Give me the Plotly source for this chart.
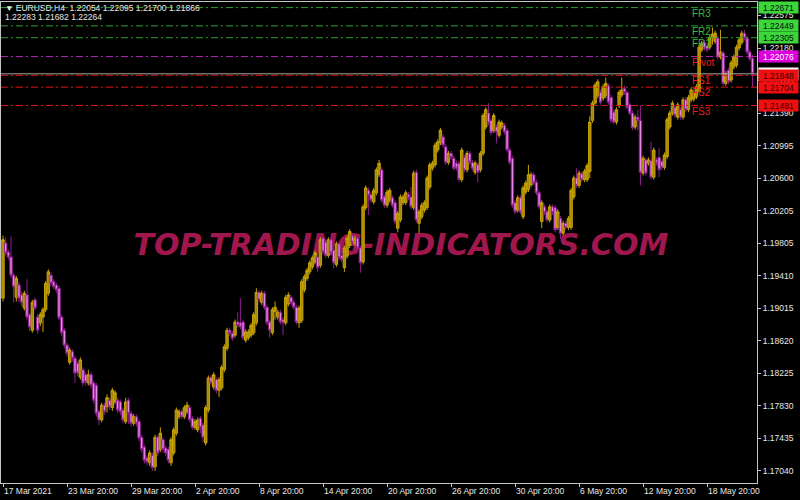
import plotly.graph_objects as go

# ---------------- data (EURUSD H4) ----------------
opens = [
    1.1914, 1.1981, 1.1970, 1.1964, 1.1942, 1.1915, 1.1930, 1.1918, 1.1902, 1.1918,
    1.1894, 1.1875, 1.1912, 1.1891, 1.1884, 1.1891, 1.1900, 1.1920, 1.1942, 1.1934,
    1.1930, 1.1926, 1.1891, 1.1875, 1.1857, 1.1836, 1.1849, 1.1841, 1.1835, 1.1818,
    1.1827, 1.1821, 1.1811, 1.1821, 1.1811, 1.1808, 1.1776, 1.1766, 1.1784, 1.1782,
    1.1790, 1.1781, 1.1788, 1.1790, 1.1788, 1.1778, 1.1764, 1.1790, 1.1774, 1.1762,
    1.1770, 1.1764, 1.1745, 1.1733, 1.1720, 1.1714, 1.1723, 1.1709, 1.1745, 1.1730,
    1.1742, 1.1732, 1.1730, 1.1714, 1.1726, 1.1750, 1.1770, 1.1776, 1.1770, 1.1776,
    1.1781, 1.1768, 1.1757, 1.1754, 1.1768, 1.1760, 1.1738, 1.1778, 1.1818, 1.1806,
    1.1815, 1.1802, 1.1805, 1.1827, 1.1853, 1.1875, 1.1871, 1.1869, 1.1885, 1.1884,
    1.1885, 1.1863, 1.1866, 1.1869, 1.1872, 1.1884, 1.1921, 1.1909, 1.1920, 1.1903,
    1.1885, 1.1872, 1.1898, 1.1891, 1.1897, 1.1888, 1.1884, 1.1907, 1.1915, 1.1909,
    1.1903, 1.1884, 1.1887, 1.1924, 1.1938, 1.1946, 1.1952, 1.1958, 1.1964, 1.1954,
    1.1987, 1.1982, 1.1966, 1.1985, 1.1972, 1.1955, 1.1980, 1.1966, 1.1951, 1.1965,
    1.1978, 1.1990, 1.1980, 1.1987, 1.1975, 1.1958, 1.2024, 1.2045, 1.2040, 1.2031,
    1.2042, 1.2064, 1.2070, 1.2037, 1.2027, 1.2033, 1.2036, 1.2030, 1.1999, 1.2009,
    1.2030, 1.2030, 1.2040, 1.2037, 1.2024, 1.2067, 1.2005, 1.2013, 1.2021, 1.2024,
    1.2049, 1.2072, 1.2076, 1.2094, 1.2103, 1.2110, 1.2098, 1.2079, 1.2090, 1.2084,
    1.2078, 1.2078, 1.2058, 1.2085, 1.2070, 1.2090, 1.2079, 1.2067, 1.2076, 1.2070,
    1.2090, 1.2122, 1.2139, 1.2130, 1.2118, 1.2122, 1.2112, 1.2122, 1.2124, 1.2118,
    1.2094, 1.2084, 1.2030, 1.2021, 1.2036, 1.2013, 1.2043, 1.2046, 1.2052, 1.2064,
    1.2055, 1.2042, 1.2007, 1.2025, 1.2019, 1.2009, 1.2025, 1.2024, 1.2000, 1.2011,
    1.1993, 1.2005, 1.2000, 1.2000, 1.2037, 1.2060, 1.2051, 1.2065, 1.2058, 1.2058,
    1.2068, 1.2130, 1.2151, 1.2160, 1.2164, 1.2157, 1.2160, 1.2172, 1.2158, 1.2140,
    1.2128, 1.2148, 1.2161, 1.2169, 1.2164, 1.2149, 1.2139, 1.2122, 1.2134, 1.2130,
    1.2066, 1.2082, 1.2078, 1.2081, 1.2061, 1.2082, 1.2085, 1.2080, 1.2073, 1.2086,
    1.2122, 1.2139, 1.2146, 1.2134, 1.2143, 1.2134, 1.2155, 1.2143, 1.2155, 1.2156,
    1.2159, 1.2166, 1.2216, 1.2225, 1.2221, 1.2219, 1.2231, 1.2226, 1.2230, 1.2207,
    1.2212, 1.2175, 1.2191, 1.2179, 1.2195, 1.2197, 1.2218, 1.2225, 1.2236, 1.2230,
    1.2213, 1.22054,
]
highs = [
    1.1990, 1.1988, 1.1973, 1.1989, 1.1945, 1.1941, 1.1934, 1.1922, 1.1923, 1.1937,
    1.1896, 1.1912, 1.1915, 1.1895, 1.1897, 1.1903, 1.1935, 1.1949, 1.1945, 1.1937,
    1.1933, 1.1929, 1.1894, 1.1878, 1.1860, 1.1854, 1.1852, 1.1844, 1.1838, 1.1842,
    1.1830, 1.1824, 1.1827, 1.1824, 1.1814, 1.1811, 1.1779, 1.1787, 1.1787, 1.1797,
    1.1793, 1.1805, 1.1802, 1.1793, 1.1791, 1.1781, 1.1793, 1.1793, 1.1777, 1.1773,
    1.1773, 1.1767, 1.1748, 1.1736, 1.1723, 1.1729, 1.1726, 1.1748, 1.1748, 1.1757,
    1.1745, 1.1735, 1.1733, 1.1745, 1.1757, 1.1781, 1.1779, 1.1779, 1.1784, 1.1788,
    1.1784, 1.1771, 1.1767, 1.1769, 1.1771, 1.1763, 1.1784, 1.1820, 1.1821, 1.1824,
    1.1818, 1.1818, 1.1833, 1.1858, 1.1878, 1.1878, 1.1874, 1.1888, 1.1897, 1.1914,
    1.1888, 1.1876, 1.1876, 1.1884, 1.1897, 1.1926, 1.1924, 1.1923, 1.1923, 1.1906,
    1.1888, 1.1903, 1.1910, 1.1900, 1.1900, 1.1891, 1.1918, 1.1921, 1.1918, 1.1912,
    1.1906, 1.1905, 1.1937, 1.1943, 1.1951, 1.1960, 1.1966, 1.1972, 1.1967, 1.1988,
    1.1990, 1.1985, 1.1988, 1.1988, 1.1975, 1.1983, 1.1983, 1.1969, 1.1978, 1.1990,
    1.1998, 1.1993, 1.1990, 1.1990, 1.1978, 1.2028, 1.2051, 1.2048, 1.2043, 1.2048,
    1.2073, 1.2082, 1.2073, 1.2040, 1.2046, 1.2048, 1.2039, 1.2033, 1.2020, 1.2040,
    1.2040, 1.2045, 1.2043, 1.2049, 1.2069, 1.2070, 1.2022, 1.2030, 1.2033, 1.2063,
    1.2079, 1.2081, 1.2103, 1.2107, 1.2121, 1.2113, 1.2101, 1.2093, 1.2093, 1.2087,
    1.2081, 1.2081, 1.2097, 1.2088, 1.2093, 1.2093, 1.2082, 1.2081, 1.2079, 1.2093,
    1.2139, 1.2146, 1.2151, 1.2133, 1.2139, 1.2125, 1.2131, 1.2130, 1.2127, 1.2121,
    1.2097, 1.2087, 1.2033, 1.2039, 1.2039, 1.2051, 1.2057, 1.2076, 1.2067, 1.2067,
    1.2058, 1.2045, 1.2033, 1.2028, 1.2022, 1.2028, 1.2028, 1.2027, 1.2022, 1.2014,
    1.2008, 1.2008, 1.2014, 1.2048, 1.2063, 1.2072, 1.2069, 1.2068, 1.2071, 1.2078,
    1.2135, 1.2154, 1.2176, 1.2180, 1.2167, 1.2174, 1.2182, 1.2175, 1.2161, 1.2143,
    1.2146, 1.2167, 1.2182, 1.2172, 1.2167, 1.2152, 1.2142, 1.2137, 1.2143, 1.2148,
    1.2087, 1.2085, 1.2085, 1.2104, 1.2097, 1.2085, 1.2097, 1.2083, 1.2091, 1.2134,
    1.2142, 1.2154, 1.2149, 1.2152, 1.2146, 1.2158, 1.2158, 1.2161, 1.2170, 1.2166,
    1.2174, 1.2222, 1.2227, 1.2228, 1.2224, 1.2234, 1.2243, 1.2239, 1.2233, 1.2240,
    1.2215, 1.2190, 1.2194, 1.2203, 1.2210, 1.2222, 1.2231, 1.2239, 1.2240, 1.2233,
    1.2216, 1.22095,
]
lows = [
    1.1910, 1.1966, 1.1960, 1.1938, 1.1909, 1.1910, 1.1909, 1.1904, 1.1899, 1.1888,
    1.1874, 1.1872, 1.1899, 1.1871, 1.1880, 1.1873, 1.1897, 1.1917, 1.1929, 1.1925,
    1.1920, 1.1887, 1.1868, 1.1853, 1.1843, 1.1833, 1.1837, 1.1811, 1.1819, 1.1815,
    1.1807, 1.1808, 1.1808, 1.1804, 1.1786, 1.1770, 1.1760, 1.1763, 1.1772, 1.1775,
    1.1778, 1.1777, 1.1785, 1.1774, 1.1772, 1.1762, 1.1761, 1.1761, 1.1758, 1.1759,
    1.1758, 1.1740, 1.1726, 1.1713, 1.1711, 1.1710, 1.1704, 1.1704, 1.1722, 1.1727,
    1.1726, 1.1722, 1.1713, 1.1710, 1.1723, 1.1747, 1.1767, 1.1767, 1.1767, 1.1773,
    1.1763, 1.1754, 1.1754, 1.1751, 1.1750, 1.1739, 1.1735, 1.1775, 1.1808, 1.1803,
    1.1798, 1.1794, 1.1802, 1.1824, 1.1850, 1.1868, 1.1862, 1.1866, 1.1878, 1.1876,
    1.1863, 1.1860, 1.1863, 1.1866, 1.1869, 1.1881, 1.1909, 1.1906, 1.1900, 1.1881,
    1.1866, 1.1869, 1.1888, 1.1888, 1.1882, 1.1869, 1.1881, 1.1904, 1.1905, 1.1900,
    1.1882, 1.1878, 1.1884, 1.1921, 1.1935, 1.1943, 1.1949, 1.1955, 1.1946, 1.1951,
    1.1967, 1.1963, 1.1963, 1.1966, 1.1950, 1.1952, 1.1960, 1.1958, 1.1946, 1.1962,
    1.1975, 1.1979, 1.1977, 1.1972, 1.1945, 1.1955, 1.2021, 1.2015, 1.2030, 1.2028,
    1.2039, 1.2061, 1.2030, 1.2024, 1.2024, 1.2030, 1.2024, 1.2004, 1.1994, 1.2006,
    1.2027, 1.2027, 1.2033, 1.2022, 1.2021, 1.2006, 1.1993, 1.2010, 1.2018, 1.2021,
    1.2046, 1.2069, 1.2073, 1.2091, 1.2100, 1.2097, 1.2076, 1.2076, 1.2082, 1.2069,
    1.2069, 1.2055, 1.2055, 1.2067, 1.2067, 1.2076, 1.2069, 1.2064, 1.2055, 1.2067,
    1.2087, 1.2119, 1.2124, 1.2112, 1.2115, 1.2102, 1.2109, 1.2119, 1.2113, 1.2091,
    1.2076, 1.2024, 1.2016, 1.2018, 1.2016, 1.2010, 1.2040, 1.2043, 1.2049, 1.2051,
    1.2039, 1.2022, 1.1999, 1.2015, 1.2006, 1.2006, 1.2015, 1.1994, 1.1997, 1.1986,
    1.1990, 1.1997, 1.1997, 1.1997, 1.2034, 1.2048, 1.2048, 1.2055, 1.2055, 1.2055,
    1.2060, 1.2127, 1.2148, 1.2157, 1.2149, 1.2154, 1.2157, 1.2149, 1.2127, 1.2125,
    1.2125, 1.2145, 1.2158, 1.2161, 1.2143, 1.2136, 1.2118, 1.2119, 1.2118, 1.2051,
    1.2063, 1.2063, 1.2075, 1.2058, 1.2058, 1.2075, 1.2061, 1.2070, 1.2070, 1.2083,
    1.2119, 1.2136, 1.2133, 1.2131, 1.2131, 1.2131, 1.2140, 1.2140, 1.2152, 1.2153,
    1.2156, 1.2163, 1.2213, 1.2215, 1.2213, 1.2216, 1.2222, 1.2223, 1.2204, 1.2204,
    1.2172, 1.2172, 1.2174, 1.2176, 1.2192, 1.2194, 1.2215, 1.2222, 1.2227, 1.2210,
    1.2202, 1.21700,
]
closes = [
    1.1985, 1.1969, 1.1964, 1.1942, 1.1928, 1.1938, 1.1914, 1.1909, 1.1920, 1.1891,
    1.1879, 1.1909, 1.1902, 1.1875, 1.1894, 1.1900, 1.1932, 1.1946, 1.1932, 1.1928,
    1.1924, 1.1890, 1.1872, 1.1857, 1.1847, 1.1851, 1.1841, 1.1823, 1.1823, 1.1839,
    1.1811, 1.1812, 1.1821, 1.1808, 1.1790, 1.1774, 1.1766, 1.1784, 1.1776, 1.1793,
    1.1782, 1.1802, 1.1799, 1.1778, 1.1776, 1.1766, 1.1788, 1.1774, 1.1762, 1.1770,
    1.1762, 1.1744, 1.1730, 1.1717, 1.1715, 1.1726, 1.1708, 1.1745, 1.1726, 1.1750,
    1.1730, 1.1726, 1.1717, 1.1742, 1.1754, 1.1778, 1.1776, 1.1770, 1.1781, 1.1784,
    1.1766, 1.1757, 1.1764, 1.1766, 1.1757, 1.1745, 1.1781, 1.1817, 1.1811, 1.1821,
    1.1802, 1.1815, 1.1830, 1.1855, 1.1875, 1.1871, 1.1865, 1.1885, 1.1881, 1.1879,
    1.1866, 1.1873, 1.1873, 1.1881, 1.1894, 1.1921, 1.1912, 1.1920, 1.1903, 1.1884,
    1.1875, 1.1900, 1.1903, 1.1897, 1.1885, 1.1884, 1.1915, 1.1918, 1.1908, 1.1903,
    1.1885, 1.1902, 1.1934, 1.1940, 1.1948, 1.1957, 1.1963, 1.1969, 1.1951, 1.1985,
    1.1970, 1.1966, 1.1985, 1.1969, 1.1957, 1.1980, 1.1963, 1.1961, 1.1975, 1.1987,
    1.1995, 1.1982, 1.1987, 1.1975, 1.1957, 1.2025, 1.2048, 1.2039, 1.2033, 1.2045,
    1.2070, 1.2078, 1.2033, 1.2027, 1.2043, 1.2045, 1.2027, 1.2007, 1.2017, 1.2037,
    1.2037, 1.2042, 1.2036, 1.2025, 1.2066, 1.2009, 1.2019, 1.2027, 1.2030, 1.2060,
    1.2076, 1.2078, 1.2100, 1.2104, 1.2118, 1.2100, 1.2079, 1.2090, 1.2085, 1.2072,
    1.2072, 1.2058, 1.2094, 1.2070, 1.2090, 1.2079, 1.2072, 1.2078, 1.2067, 1.2090,
    1.2136, 1.2143, 1.2127, 1.2115, 1.2136, 1.2116, 1.2128, 1.2127, 1.2116, 1.2094,
    1.2079, 1.2027, 1.2019, 1.2036, 1.2019, 1.2048, 1.2054, 1.2064, 1.2064, 1.2054,
    1.2042, 1.2025, 1.2030, 1.2018, 1.2009, 1.2025, 1.2018, 1.1997, 1.2019, 1.1993,
    1.2005, 1.2000, 1.2011, 1.2045, 1.2060, 1.2051, 1.2066, 1.2058, 1.2068, 1.2075,
    1.2128, 1.2151, 1.2173, 1.2177, 1.2152, 1.2171, 1.2175, 1.2152, 1.2130, 1.2128,
    1.2143, 1.2164, 1.2167, 1.2164, 1.2146, 1.2139, 1.2121, 1.2134, 1.2130, 1.2067,
    1.2084, 1.2066, 1.2082, 1.2061, 1.2094, 1.2078, 1.2070, 1.2073, 1.2088, 1.2131,
    1.2139, 1.2151, 1.2136, 1.2149, 1.2134, 1.2155, 1.2143, 1.2158, 1.2167, 1.2163,
    1.2171, 1.2219, 1.2224, 1.2218, 1.2216, 1.2231, 1.2235, 1.2236, 1.2207, 1.2213,
    1.2175, 1.2187, 1.2177, 1.2200, 1.2207, 1.2219, 1.2228, 1.2236, 1.2230, 1.2213,
    1.2205, 1.21866,
]
bar_index = list(range(len(opens)))

time_tick_bars = [0, 24, 48, 72, 96, 120, 144, 168, 192, 216, 240, 264]
time_tick_labels = ["17 Mar 2021", "23 Mar 20:00", "29 Mar 20:00", "2 Apr 20:00",
                    "8 Apr 20:00", "14 Apr 20:00", "20 Apr 20:00", "26 Apr 20:00",
                    "30 Apr 20:00", "6 May 20:00", "12 May 20:00", "18 May 20:00"]

price_ticks = [1.17040, 1.17435, 1.17830, 1.18225, 1.18620, 1.19015, 1.19410, 1.19805,
               1.20205, 1.20600, 1.20995, 1.21390, 1.21785, 1.22180, 1.22575]
price_tick_labels = ["1.17040", "1.17435", "1.17830", "1.18225", "1.18620", "1.19015",
                     "1.19410", "1.19805", "1.20205", "1.20600", "1.20995", "1.21390",
                     "1.21785", "1.22180", "1.22575"]

level_names = ["FR3", "FR2", "FR1", "Pivot", "FS1", "FS2", "FS3"]
level_values = [1.22671, 1.22449, 1.22305, 1.22076, 1.21848, 1.21704, 1.21481]
level_value_labels = ["1.22671", "1.22449", "1.22305", "1.22076", "1.21848", "1.21704", "1.21481"]
level_kinds = ["R", "R", "R", "P", "S", "S", "S"]

bid_price = 1.21866
bid_label = "1.21866"

header_line1 = "\u25bc EURUSD,H4  1.22054 1.22095 1.21700 1.21866"
header_line2 = "1.22283 1.21682 1.22264"
watermark = "TOP-TRADING-INDICATORS.COM"

# ---------------- styles ----------------
line_col = {"R": "#2EA02E", "P": "#B324B3", "S": "#E01414"}
text_col = {"R": "#3CB83C", "P": "#EE1C1C", "S": "#EE1C1C"}
box_col = {"R": "#3AD63A", "P": "#DD00DD", "S": "#EE1010"}
box_txt = {"R": "#0A0A0A", "P": "#FFFFFF", "S": "#3A0000"}
FONT = "Liberation Sans, Arial, sans-serif"
AX = "#C4C4C4"

fig = go.Figure()

# watermark (on base axes so it sits under the candles)
fig.add_trace(go.Scatter(
    x=[0.529], y=[0.489], mode="text", text=[watermark],
    textfont=dict(family="DejaVu Sans", size=30, color="#A0174D",
                  weight="bold", style="italic"),
    xaxis="x", yaxis="y", hoverinfo="skip", showlegend=False,
))

fig.add_trace(go.Candlestick(
    x=bar_index, open=opens, high=highs, low=lows, close=closes,
    xaxis="x2", yaxis="y2",
    increasing=dict(line=dict(color="#C8A400", width=1), fillcolor="#A88A0A"),
    decreasing=dict(line=dict(color="#8E1F8E", width=1), fillcolor="#E884E8"),
    whiskerwidth=0, showlegend=False, hoverinfo="skip",
))

shapes = []
# bid line
shapes.append(dict(type="line", xref="paper", x0=0, x1=1, yref="y2",
                   y0=bid_price, y1=bid_price, line=dict(color="#A8A8A8", width=1)))
for v, k in zip(level_values, level_kinds):
    shapes.append(dict(type="line", xref="paper", x0=0, x1=1, yref="y2", y0=v, y1=v,
                       line=dict(color=line_col[k], width=1, dash="7px,3px,2px,3px")))

annotations = []
# level names on chart
for name, v, k in zip(level_names, level_values, level_kinds):
    annotations.append(dict(xref="paper", x=0.911, xanchor="left", yref="y2", y=v,
                            yanchor="top", yshift=2, text=name, showarrow=False,
                            font=dict(family=FONT, size=10, color=text_col[k])))
# bid price box (partly hidden under FS1 box)
annotations.append(dict(xref="paper", x=1, xanchor="left", xshift=1, yref="y2", y=bid_price,
                        yanchor="middle", text=bid_label, showarrow=False, bgcolor="#FFFFFF",
                        width=39, height=11, borderpad=0,
                        font=dict(family=FONT, size=8.5, color="#000000")))
for lbl, v, k in zip(level_value_labels, level_values, level_kinds):
    annotations.append(dict(xref="paper", x=1, xanchor="left", xshift=1, yref="y2", y=v,
                            yanchor="middle", text=lbl, showarrow=False, bgcolor=box_col[k],
                            width=39, height=11, borderpad=0,
                            font=dict(family=FONT, size=8.5, color=box_txt[k])))
# header
annotations.append(dict(xref="paper", yref="paper", x=0, y=1, xanchor="left", yanchor="middle",
                        xshift=2, yshift=-6, text=header_line1, showarrow=False,
                        font=dict(family=FONT, size=8.5, color="#E8E8E8")))
annotations.append(dict(xref="paper", yref="paper", x=0, y=1, xanchor="left", yanchor="middle",
                        xshift=2, yshift=-15, text=header_line2, showarrow=False,
                        font=dict(family=FONT, size=8.5, color="#E8E8E8")))

fig.update_layout(
    width=800, height=500,
    margin=dict(l=1, r=43, t=2, b=17),
    paper_bgcolor="#000000", plot_bgcolor="#000000",
    showlegend=False, hovermode=False,
    boxgap=0.1, boxgroupgap=0,
    xaxis=dict(range=[0, 1], visible=False, fixedrange=True),
    yaxis=dict(range=[0, 1], visible=False, fixedrange=True),
    xaxis2=dict(overlaying="x", anchor="y2", side="bottom",
                range=[-0.75, 282.7], showgrid=False, zeroline=False,
                showline=True, linecolor=AX, linewidth=1, mirror=True,
                ticks="outside", ticklen=3, tickcolor=AX,
                tickvals=time_tick_bars, ticktext=time_tick_labels,
                ticklabelposition="outside right",
                tickfont=dict(family=FONT, size=8.5, color="#E8E8E8"),
                rangeslider=dict(visible=False)),
    yaxis2=dict(overlaying="y", anchor="x2", side="right",
                range=[1.16894, 1.22739], showgrid=False, zeroline=False,
                showline=True, linecolor=AX, linewidth=1, mirror=True,
                ticks="outside", ticklen=3, tickcolor=AX,
                tickvals=price_ticks, ticktext=price_tick_labels,
                tickfont=dict(family=FONT, size=8.5, color="#E8E8E8")),
    shapes=shapes, annotations=annotations,
)

fig.write_html(
    "out.html",
    config={"displayModeBar": False},
    post_script="document.body.style.margin='0px';document.body.style.background='#000';",
)
